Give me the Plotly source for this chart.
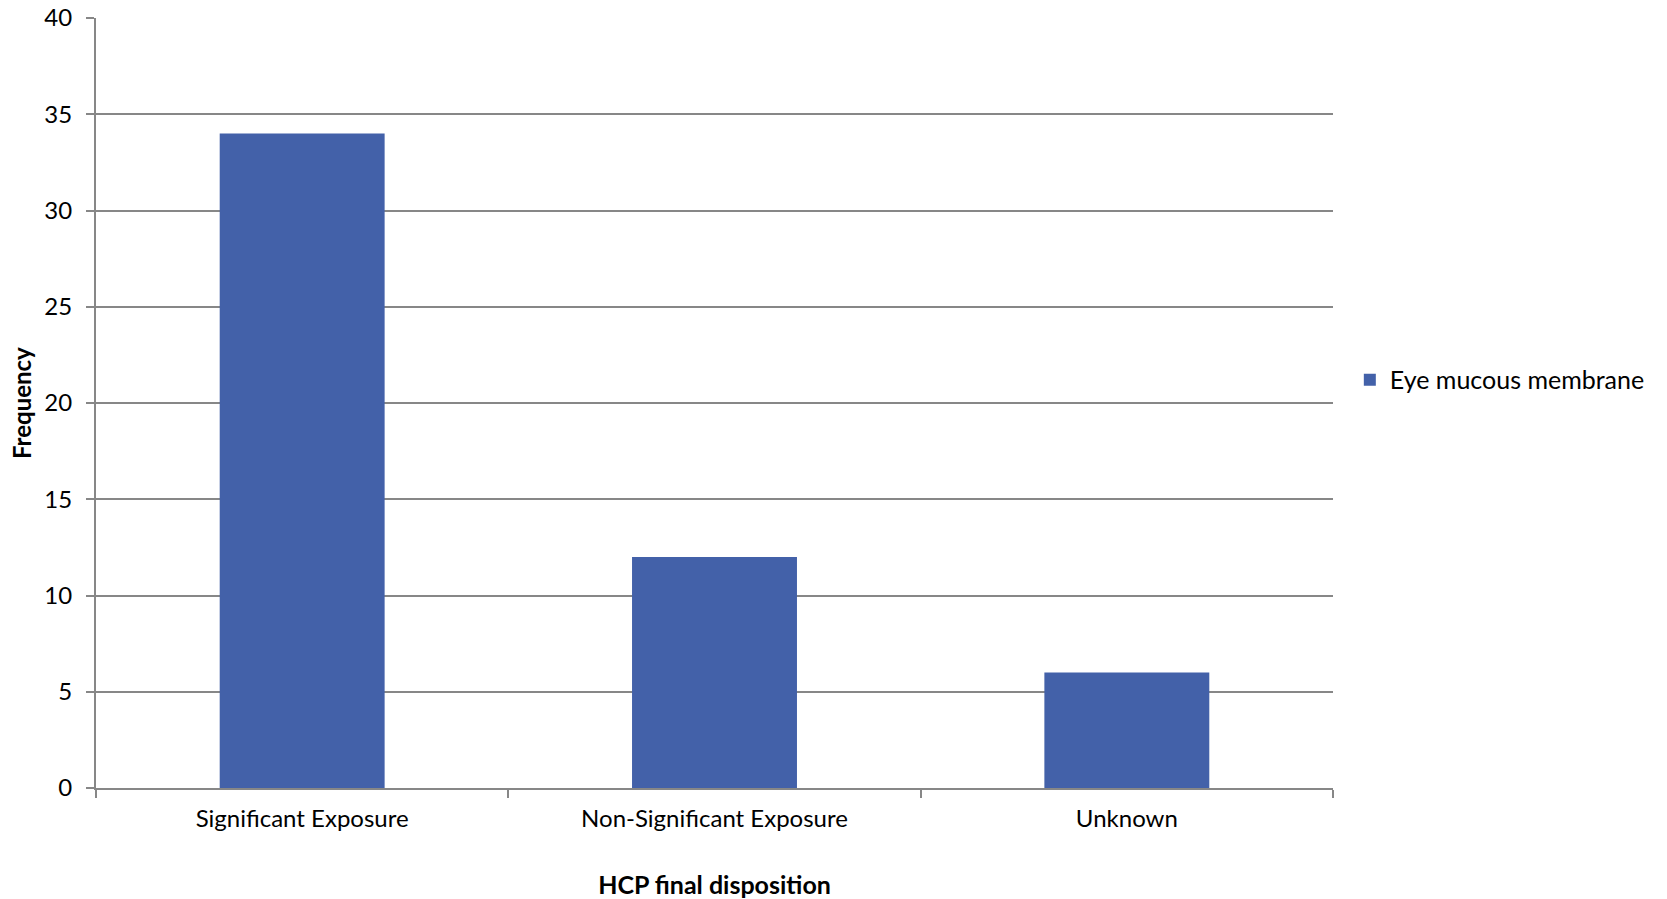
import plotly.graph_objects as go

categories = ["Significant Exposure", "Non-Significant Exposure", "Unknown"]
values = [34, 12, 6]
series_name = "Eye mucous membrane"
y_ticks = [0, 5, 10, 15, 20, 25, 30, 35, 40]

FONT = "Lato"
GRID = "#878787"

fig = go.Figure()
fig.add_trace(go.Bar(
    x=categories, y=values, name=series_name,
    marker=dict(color="#4361A9", line=dict(width=0)),
    width=0.4, showlegend=True,
))

fig.update_layout(
    width=1667, height=899,
    margin=dict(l=96, r=334, t=18, b=111, autoexpand=False),
    paper_bgcolor="white", plot_bgcolor="white",
    font=dict(family=FONT, color="black"),
    showlegend=True,
    legend=dict(x=1.0136, xanchor="left", y=0.53, yanchor="middle",
                font=dict(family=FONT, size=25, color="black"),
                itemsizing="constant", bgcolor="rgba(0,0,0,0)"),
    xaxis=dict(
        title=dict(text="<b>HCP final disposition</b>", font=dict(family=FONT, size=25), standoff=55),
        tickfont=dict(family=FONT, size=24),
        showline=True, linecolor=GRID, linewidth=2,
        ticks="outside", ticklen=8, tickcolor=GRID, tickwidth=2,
        tickson="boundaries", showgrid=False, zeroline=False,
        ticklabelstandoff=8,
    ),
    yaxis=dict(
        range=[0, 40], tickvals=y_ticks,
        tickfont=dict(family=FONT, size=24),
        showline=True, linecolor=GRID, linewidth=2,
        ticks="outside", ticklen=8, tickcolor=GRID, tickwidth=2,
        showgrid=True, gridcolor=GRID, gridwidth=2, zeroline=False,
        ticklabelstandoff=9,
    ),
    bargap=0.6,
    annotations=[dict(
        text="<b>Frequency</b>", textangle=-90,
        xref="paper", yref="paper", x=-75 / 1237, y=0.5,
        xanchor="center", yanchor="middle", showarrow=False,
        font=dict(family=FONT, size=24, color="black"),
    )],
)

fig.write_html("out.html")
